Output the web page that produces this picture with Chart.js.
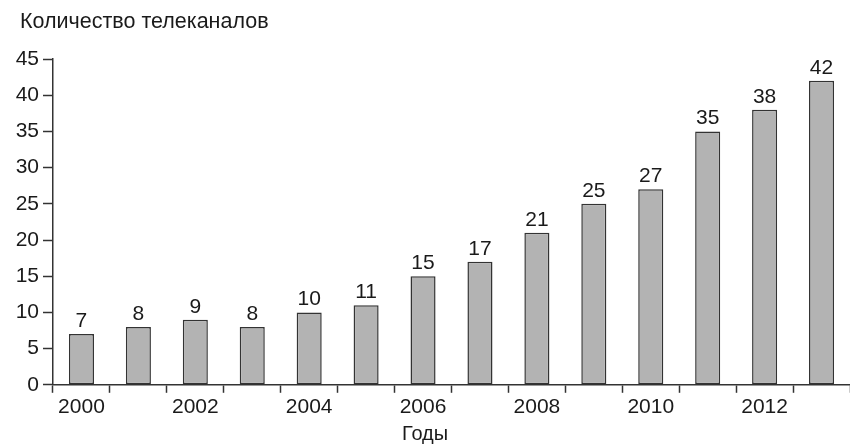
<!DOCTYPE html>
<html lang="ru">
<head>
<meta charset="utf-8">
<title>Количество телеканалов</title>
<script src="https://cdn.jsdelivr.net/npm/chart.js@4/dist/chart.umd.min.js"></script>
<style>
  html, body { margin: 0; padding: 0; background: #fff; overflow: hidden; }
  #wrap { position: relative; width: 850px; height: 445px; }
</style>
</head>
<body>
<div id="wrap"><canvas id="chart"></canvas></div>
<script>
// Years on the category axis
const years = ['2000', '2001', '2002', '2003', '2004', '2005', '2006',
               '2007', '2008', '2009', '2010', '2011', '2012', '2013'];
// Number of TV channels per year
const channels = [7, 8, 9, 8, 10, 11, 15, 17, 21, 25, 27, 35, 38, 42];
// Value axis range
const yMin = 0;
const yMax = 45;
const yStep = 5;
// Axis captions
const yCaption = 'Количество телеканалов';
const xCaption = 'Годы';

const FONT = '"Liberation Sans", Arial, Helvetica, sans-serif';
const INK = '#1a1a1a';
const AXIS = '#333333';

// Numbers printed above every bar
const valueLabels = {
  id: 'valueLabels',
  afterDatasetsDraw(chart) {
    const ctx = chart.ctx;
    const meta = chart.getDatasetMeta(0);
    ctx.save();
    ctx.font = '21px ' + FONT;
    ctx.fillStyle = INK;
    ctx.textAlign = 'center';
    ctx.textBaseline = 'alphabetic';
    meta.data.forEach((bar, i) => {
      ctx.fillText(String(channels[i]), bar.x, bar.y - 7);
    });
    ctx.restore();
  }
};

// Caption over the value axis (top left) and under the year axis (centred)
const captions = {
  id: 'captions',
  afterDraw(chart) {
    const ctx = chart.ctx;
    ctx.save();
    ctx.fillStyle = INK;
    ctx.textBaseline = 'middle';
    ctx.font = '21.5px ' + FONT;
    ctx.textAlign = 'left';
    ctx.fillText(yCaption, 20, 22);
    ctx.font = '20px ' + FONT;
    ctx.textAlign = 'center';
    ctx.fillText(xCaption, chart.width / 2, 434);
    ctx.restore();
  }
};

new Chart(document.getElementById('chart'), {
  type: 'bar',
  data: {
    labels: years,
    datasets: [{
      data: channels,
      backgroundColor: '#b3b3b3',
      borderColor: AXIS,
      borderWidth: 1.5,
      borderSkipped: false,
      barPercentage: 0.44,
      categoryPercentage: 1.0
    }]
  },
  options: {
    responsive: true,
    maintainAspectRatio: false,
    devicePixelRatio: 1,
    animation: false,
    layout: { padding: { left: 8, right: 0, top: 59, bottom: 23 } },
    plugins: {
      legend: { display: false },
      tooltip: { enabled: false },
      title: { display: false }
    },
    scales: {
      x: {
        type: 'category',
        offset: true,
        border: { display: true, color: AXIS, width: 1.5 },
        grid: {
          offset: true,
          drawOnChartArea: false,
          drawTicks: true,
          tickLength: 8,
          tickColor: AXIS,
          tickWidth: 1.5
        },
        ticks: {
          autoSkip: false,
          maxRotation: 0,
          padding: 2,
          color: INK,
          font: { family: FONT, size: 21 },
          callback: (v, i) => (i % 2 === 0 ? years[i] : '')
        }
      },
      y: {
        min: yMin,
        max: yMax,
        border: { display: true, color: AXIS, width: 1.5 },
        grid: {
          drawOnChartArea: false,
          drawTicks: true,
          tickLength: 10,
          tickColor: AXIS,
          tickWidth: 1.5
        },
        ticks: {
          stepSize: yStep,
          padding: 4,
          color: INK,
          font: { family: FONT, size: 21 }
        },
        afterFit(scale) { scale.width = 45; }
      }
    }
  },
  plugins: [valueLabels, captions]
});
</script>
</body>
</html>
